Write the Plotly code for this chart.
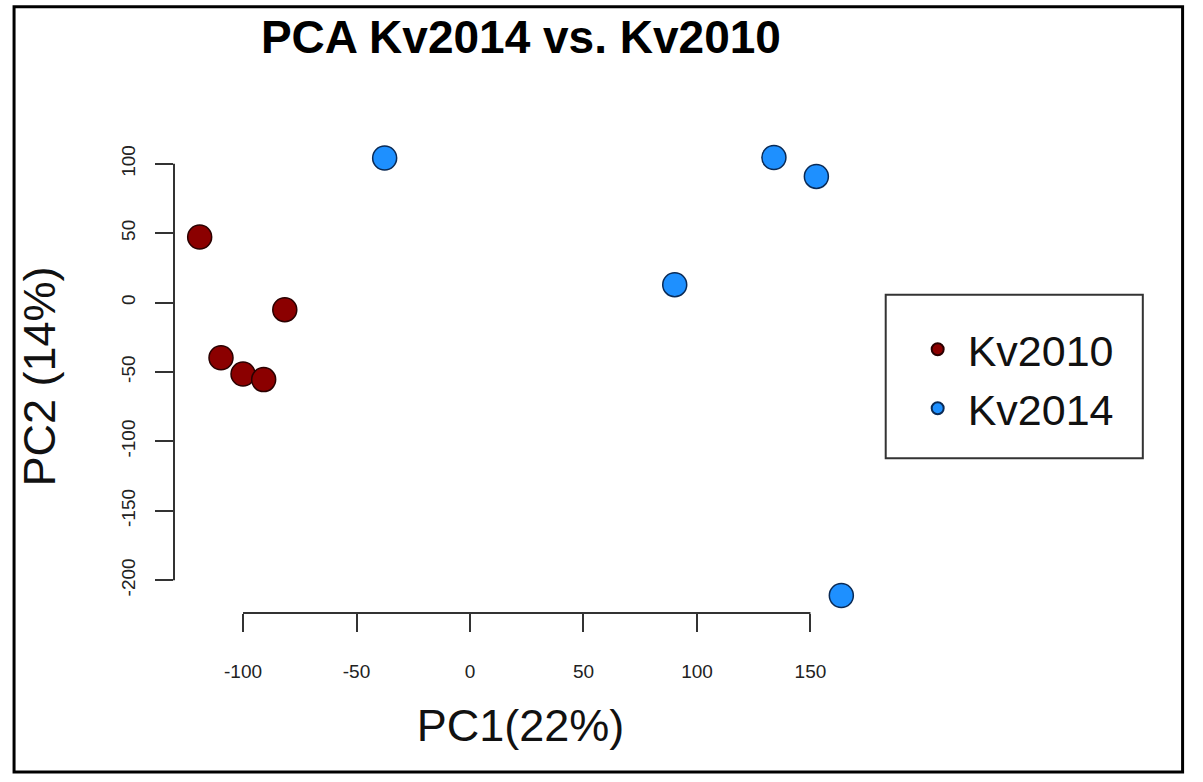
import plotly.graph_objects as go

# PCA scores
kv2010_pc1 = [-119.1, -109.7, -100.0, -90.9, -81.6]
kv2010_pc2 = [47.2, -39.7, -51.4, -55.5, -5.1]
kv2014_pc1 = [-37.6, 133.9, 152.6, 90.2, 163.6]
kv2014_pc2 = [104.1, 104.5, 90.9, 12.9, -211.0]

x_ticks = [-100, -50, 0, 50, 100, 150]
x_tick_labels = ["-100", "-50", "0", "50", "100", "150"]
y_ticks = [-200, -150, -100, -50, 0, 50, 100]
y_tick_labels = ["-200", "-150", "-100", "-50", "0", "50", "100"]

FONT = "Liberation Sans, Arial, sans-serif"

# R-style limits: data range stretched by 4% on each side
all_x = kv2010_pc1 + kv2014_pc1
all_y = kv2010_pc2 + kv2014_pc2
dx = (max(all_x) - min(all_x)) * 0.04
dy = (max(all_y) - min(all_y)) * 0.04
x_range = [min(all_x) - dx, max(all_x) + dx]
y_range = [min(all_y) - dy, max(all_y) + dy]

fig = go.Figure()
fig.add_trace(go.Scatter(
    x=kv2010_pc1, y=kv2010_pc2, mode="markers", name="Kv2010",
    marker=dict(size=24, color="#8b0000", line=dict(color="#2a0000", width=1.5)),
))
fig.add_trace(go.Scatter(
    x=kv2014_pc1, y=kv2014_pc2, mode="markers", name="Kv2014",
    marker=dict(size=24, color="#1e90ff", line=dict(color="#0a2a55", width=1.5)),
))

# axis lines only from first to last tick, like base R
fig.add_shape(type="line", xref="x", yref="paper",
              x0=x_ticks[0], x1=x_ticks[-1], y0=0, y1=0,
              line=dict(color="#333333", width=2))
fig.add_shape(type="line", xref="paper", yref="y",
              x0=0, x1=0, y0=y_ticks[0], y1=y_ticks[-1],
              line=dict(color="#333333", width=2))

# legend box and outer frame
fig.add_shape(type="rect", xref="paper", yref="paper",
              x0=1.027, x1=1.398, y0=0.327, y1=0.673,
              line=dict(color="#333333", width=2))
fig.add_shape(type="rect", xref="paper", yref="paper",
              x0=-0.2308, x1=1.4554, y0=-0.3363, y1=1.2817,
              line=dict(color="black", width=3))

fig.update_xaxes(
    range=x_range, showgrid=False, zeroline=False, showline=False,
    tickvals=x_ticks, ticktext=x_tick_labels,
    ticks="outside", ticklen=18, tickwidth=2, tickcolor="#333333",
    ticklabelstandoff=23, tickfont=dict(family=FONT, size=19, color="#222222"),
    title=dict(text="PC1(22%)", font=dict(family=FONT, size=45, color="#111111"), standoff=28),
)
fig.update_yaxes(
    range=y_range, showgrid=False, zeroline=False, showline=False,
    tickvals=y_ticks, ticktext=y_tick_labels,
    ticks="outside", ticklen=18, tickwidth=2, tickcolor="#333333",
    tickangle=-90, ticklabelstandoff=12, tickfont=dict(family=FONT, size=19, color="#222222"),
    title=dict(text="PC2 (14%)", font=dict(family=FONT, size=45, color="#111111"), standoff=48),
)

fig.update_layout(
    width=1203, height=782,
    margin=dict(l=174, r=336, t=140, b=169),
    paper_bgcolor="white", plot_bgcolor="white",
    title=dict(text="<b>PCA Kv2014 vs. Kv2010</b>", x=0.433, xanchor="center",
               y=0.953, yanchor="middle",
               font=dict(family=FONT, size=46, color="black")),
    legend=dict(x=1.0587, xanchor="left", y=0.495, yanchor="middle",
                bgcolor="rgba(0,0,0,0)", borderwidth=0,
                font=dict(family=FONT, size=43, color="#111111"),
                itemsizing="constant", itemwidth=50),
    showlegend=True,
)

fig.write_html("out.html", config={"displayModeBar": False},
               post_script="document.body.style.margin='0';")
